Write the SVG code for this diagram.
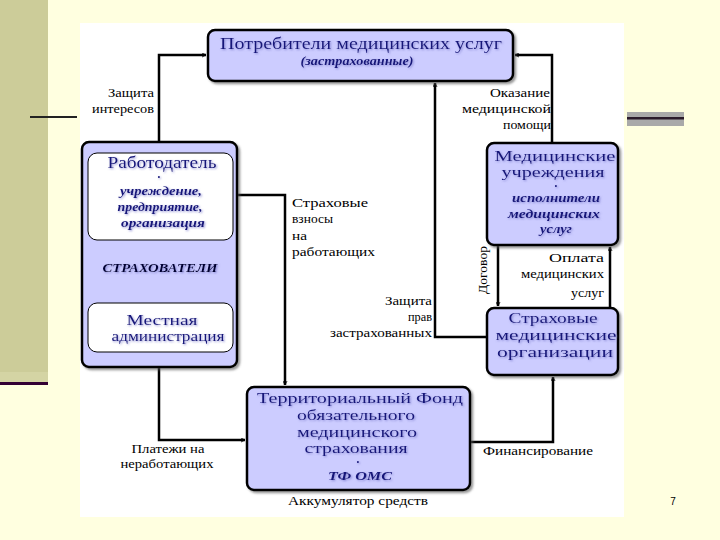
<svg xmlns="http://www.w3.org/2000/svg" width="720" height="540" viewBox="0 0 720 540" font-family="'Liberation Serif', 'Times New Roman', serif">
<defs>
<style>
.box{fill:#CCCCFF;stroke:#000;stroke-width:2.5}
.inner{fill:#fff;stroke:#000;stroke-width:1}
.t{fill:#14147a;text-anchor:middle}
.big{font-size:15px}
.bi{font-size:12px;font-weight:bold;font-style:italic}
.lbl{font-size:13px;fill:#000}
.r{text-anchor:end}
.m{text-anchor:middle}
.c{fill:none;stroke:#000;stroke-width:2.5}
.shadow{filter:url(#sh)}
</style>
<filter id="sh" x="-10%" y="-10%" width="130%" height="140%">
<feDropShadow dx="2" dy="2" stdDeviation="1.2" flood-color="#555" flood-opacity="0.6"/>
</filter>
<filter id="glow" x="-5%" y="-20%" width="110%" height="140%">
<feDropShadow dx="1" dy="1" stdDeviation="0.8" flood-color="#7777cc" flood-opacity="0.8"/>
</filter>
<marker id="arr" viewBox="0 0 10 10" refX="9" refY="5" markerWidth="5" markerHeight="5" orient="auto" markerUnits="userSpaceOnUse">
<path d="M1,1 L9,5 L1,9" fill="none" stroke="#000" stroke-width="1.6"/>
</marker>
</defs>
<rect width="720" height="540" fill="#FFFFE0"/>
<rect x="0" y="0" width="48" height="382" fill="#CCCC99"/>
<rect x="0" y="372" width="48" height="10" fill="#D4D4A4"/>
<rect x="0" y="382" width="48" height="3" fill="#330033"/>
<rect x="30" y="116" width="47" height="2" fill="#222"/>
<rect x="627" y="112" width="57" height="14" fill="#A9A9A9"/>
<rect x="627" y="117" width="57" height="2.5" fill="#2a1a2a"/>
<rect x="80" y="23" width="544" height="494" fill="#fff"/>

<g id="connectors">
<path class="c" d="M159,142 V55 H206" marker-end="url(#arr)"/>
<path class="c" d="M552,145 V55 H515" marker-end="url(#arr)"/>
<path class="c" d="M487,337 H435 V83" marker-end="url(#arr)"/>
<path class="c" d="M233,195 H285 V385" marker-end="url(#arr)"/>
<path class="c" d="M498,245 V306" marker-end="url(#arr)"/>
<path class="c" d="M610,308 V247" marker-end="url(#arr)"/>
<path class="c" d="M159,352 V440 H245" marker-end="url(#arr)"/>
<path class="c" d="M470,442 H553 V377" marker-end="url(#arr)"/>
</g>

<g id="labels">
<text class="lbl r" x="154" y="97" textLength="46" lengthAdjust="spacingAndGlyphs">Защита</text>
<text class="lbl r" x="154" y="113" textLength="62" lengthAdjust="spacingAndGlyphs">интересов</text>
<text class="lbl r" x="550" y="97" textLength="60" lengthAdjust="spacingAndGlyphs">Оказание</text>
<text class="lbl r" x="551" y="113" textLength="89" lengthAdjust="spacingAndGlyphs">медицинской</text>
<text class="lbl r" x="551" y="129" textLength="48" lengthAdjust="spacingAndGlyphs">помощи</text>
<text class="lbl" x="292" y="207" textLength="76" lengthAdjust="spacingAndGlyphs">Страховые</text>
<text class="lbl" x="292" y="223" textLength="41" lengthAdjust="spacingAndGlyphs">взносы</text>
<text class="lbl" x="292" y="240" textLength="15" lengthAdjust="spacingAndGlyphs">на</text>
<text class="lbl" x="292" y="256" textLength="83" lengthAdjust="spacingAndGlyphs">работающих</text>
<text class="lbl r" x="432" y="305" textLength="47" lengthAdjust="spacingAndGlyphs">Защита</text>
<text class="lbl r" x="432" y="321" textLength="24" lengthAdjust="spacingAndGlyphs">прав</text>
<text class="lbl r" x="432" y="337" textLength="102" lengthAdjust="spacingAndGlyphs">застрахованных</text>
<text class="lbl m" transform="translate(487,270) rotate(-90)" x="0" y="0" textLength="48" lengthAdjust="spacingAndGlyphs">Договор</text>
<text class="lbl r" x="604" y="262" textLength="55" lengthAdjust="spacingAndGlyphs">Оплата</text>
<text class="lbl r" x="604" y="278" textLength="83" lengthAdjust="spacingAndGlyphs">медицинских</text>
<text class="lbl r" x="604" y="297" textLength="33" lengthAdjust="spacingAndGlyphs">услуг</text>
<text class="lbl m" x="168" y="453" textLength="73" lengthAdjust="spacingAndGlyphs">Платежи на</text>
<text class="lbl m" x="167" y="468" textLength="93" lengthAdjust="spacingAndGlyphs">неработающих</text>
<text class="lbl" x="483" y="455" textLength="110" lengthAdjust="spacingAndGlyphs">Финансирование</text>
<text class="lbl m" x="358" y="505" textLength="140" lengthAdjust="spacingAndGlyphs">Аккумулятор средств</text>
<text x="673" y="505" font-family="'Liberation Sans', Arial, sans-serif" font-size="10" fill="#000" text-anchor="middle">7</text>
</g>

<g id="consumers">
<rect class="box shadow" x="208" y="30" width="305" height="51" rx="7"/>
<g filter="url(#glow)">
<text class="t" x="361" y="49" font-size="17" textLength="282" lengthAdjust="spacingAndGlyphs">Потребители медицинских услуг</text>
<text class="t bi" x="357" y="65" textLength="113" lengthAdjust="spacingAndGlyphs">(застрахованные)</text>
</g>
</g>

<g id="insurers">
<rect class="box shadow" x="82" y="142" width="155" height="225" rx="7"/>
<rect class="inner" x="88" y="153" width="145" height="87" rx="9"/>
<rect class="inner" x="88" y="303" width="145" height="49" rx="9"/>
<g filter="url(#glow)">
<text class="t" x="162" y="168" font-size="17" textLength="109" lengthAdjust="spacingAndGlyphs">Работодатель</text>
<text class="t" x="159" y="180" font-size="8">•</text>
<text class="t bi" x="161" y="195" textLength="82" lengthAdjust="spacingAndGlyphs">учреждение,</text>
<text class="t bi" x="160" y="211" textLength="85" lengthAdjust="spacingAndGlyphs">предприятие,</text>
<text class="t bi" x="163" y="227" textLength="84" lengthAdjust="spacingAndGlyphs">организация</text>
<text class="t bi" x="160" y="272" style="font-size:13px;fill:#000033" textLength="115" lengthAdjust="spacingAndGlyphs">СТРАХОВАТЕЛИ</text>
<text class="t big" x="162" y="325" textLength="71" lengthAdjust="spacingAndGlyphs">Местная</text>
<text class="t big" x="168" y="341" textLength="113" lengthAdjust="spacingAndGlyphs">администрация</text>
</g>
</g>

<g id="medical">
<rect class="box shadow" x="487" y="143" width="131" height="102" rx="7"/>
<g filter="url(#glow)">
<text class="t big" x="555" y="161" textLength="121" lengthAdjust="spacingAndGlyphs">Медицинские</text>
<text class="t big" x="553" y="177" textLength="103" lengthAdjust="spacingAndGlyphs">учреждения</text>
<text class="t" x="556" y="189" font-size="8">•</text>
<text class="t bi" x="556" y="202" textLength="88" lengthAdjust="spacingAndGlyphs">исполнители</text>
<text class="t bi" x="554" y="218" textLength="92" lengthAdjust="spacingAndGlyphs">медицинских</text>
<text class="t bi" x="556" y="233" textLength="32" lengthAdjust="spacingAndGlyphs">услуг</text>
</g>
</g>

<g id="smo">
<rect class="box shadow" x="487" y="308" width="131" height="67" rx="7"/>
<g filter="url(#glow)">
<text class="t big" x="553" y="323" textLength="89" lengthAdjust="spacingAndGlyphs">Страховые</text>
<text class="t big" x="556" y="340" textLength="121" lengthAdjust="spacingAndGlyphs">медицинские</text>
<text class="t big" x="555" y="357" textLength="116" lengthAdjust="spacingAndGlyphs">организации</text>
</g>
</g>

<g id="tfoms">
<rect class="box shadow" x="247" y="387" width="223" height="103" rx="7"/>
<g filter="url(#glow)">
<text class="t big" x="360" y="403" textLength="206" lengthAdjust="spacingAndGlyphs">Территориальный Фонд</text>
<text class="t big" x="356" y="420" textLength="118" lengthAdjust="spacingAndGlyphs">обязательного</text>
<text class="t big" x="357" y="437" textLength="120" lengthAdjust="spacingAndGlyphs">медицинского</text>
<text class="t big" x="356" y="453" textLength="103" lengthAdjust="spacingAndGlyphs">страхования</text>
<text class="t" x="358" y="465" font-size="8">•</text>
<text class="t bi" x="360" y="480" font-size="14" textLength="64" lengthAdjust="spacingAndGlyphs">ТФ ОМС</text>
</g>
</g>
</svg>
